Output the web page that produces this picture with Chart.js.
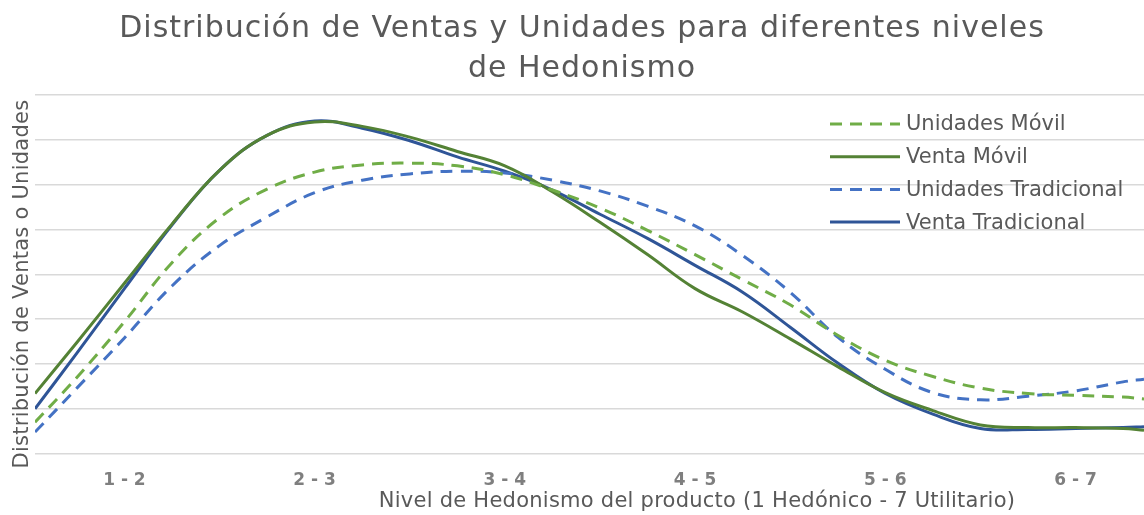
<!DOCTYPE html>
<html>
<head>
<meta charset="utf-8">
<title>Distribución de Ventas y Unidades</title>
<script src="https://cdn.jsdelivr.net/npm/chart.js@4.4.1/dist/chart.umd.min.js"></script>
<style>
  html, body { margin: 0; padding: 0; background: #fff; overflow: hidden; }
  canvas { display: block; }
</style>
</head>
<body>
<canvas id="grafico" width="1144" height="515"></canvas>
<script>
// categorias del eje x (nivel de hedonismo)
const categorias = ['1 - 2', '2 - 3', '3 - 4', '4 - 5', '5 - 6', '6 - 7'];

// posiciones de muestreo sobre el eje (0 = "1 - 2", 5 = "6 - 7")
const posiciones = [-0.47, -0.25, 0, 0.25, 0.5, 0.75, 1, 1.25, 1.5, 1.75, 2, 2.25, 2.5,
  2.75, 3, 3.25, 3.5, 3.75, 4, 4.25, 4.5, 4.75, 5, 5.25, 5.36];

// valores (% de distribucion)
const unidadesMovil = [3.5, 8.5, 14.7, 21.3, 26.3, 29.5, 31.4, 32.2, 32.4, 32.1, 31.1, 29.4, 27.4,
  24.9, 22.2, 19.4, 16.6, 13.2, 10.4, 8.6, 7.3, 6.7, 6.5, 6.3, 6.1];
const ventaMovil = [6.7, 12.4, 19.0, 25.6, 31.6, 35.5, 37.0, 36.5, 35.3, 33.7, 32.1, 29.2, 25.8,
  22.2, 18.4, 15.8, 12.8, 9.7, 6.8, 4.8, 3.2, 2.9, 2.9, 2.8, 2.6];
const unidadesTradicional = [2.4, 7.3, 12.9, 18.7, 23.2, 26.4, 29.1, 30.5, 31.2, 31.5, 31.3, 30.5, 29.3,
  27.6, 25.4, 22.1, 18.0, 13.0, 9.4, 6.8, 6.0, 6.4, 7.0, 8.0, 8.3];
const ventaTradicional = [5.0, 11.2, 18.4, 25.5, 31.6, 35.5, 37.1, 36.3, 34.9, 33.1, 31.5, 29.4, 26.7,
  24.0, 21.0, 18.0, 14.1, 10.1, 6.7, 4.4, 2.8, 2.7, 2.8, 2.9, 3.0];

const titulo = ['Distribución de Ventas y Unidades para diferentes niveles', 'de Hedonismo'];
const tituloX = 'Nivel de Hedonismo del producto (1 Hedónico - 7 Utilitario)';
const tituloY = 'Distribución de Ventas o Unidades';

const fuente = '"DejaVu Sans", Verdana, sans-serif';
const grisTexto = '#595959';

const puntos = (valores) => valores.map((v, i) => ({ x: posiciones[i], y: v }));

// titulos, leyenda y titulos de ejes dibujados sobre el lienzo
const textos = {
  id: 'textos',
  afterDraw(chart) {
    const ctx = chart.ctx;
    ctx.save();
    ctx.fillStyle = grisTexto;
    ctx.textAlign = 'center';
    ctx.textBaseline = 'alphabetic';
    ctx.font = '30px ' + fuente;
    ctx.letterSpacing = '1px';
    ctx.fillText(titulo[0], 582, 37);
    ctx.fillText(titulo[1], 582, 77);

    ctx.font = '21px ' + fuente;
    ctx.letterSpacing = '0.25px';
    ctx.fillText(tituloX, 697, 507);

    ctx.save();
    ctx.translate(28, 284);
    ctx.rotate(-Math.PI / 2);
    ctx.fillText(tituloY, 0, 0);
    ctx.restore();

    // leyenda
    ctx.letterSpacing = '0px';
    ctx.textAlign = 'left';
    ctx.textBaseline = 'middle';
    chart.data.datasets.forEach((ds, i) => {
      const y = 124 + i * 32.7;
      ctx.beginPath();
      ctx.strokeStyle = ds.borderColor;
      ctx.lineWidth = 3;
      ctx.setLineDash(ds.borderDash || []);
      ctx.moveTo(830, y);
      ctx.lineTo(900, y);
      ctx.stroke();
      ctx.setLineDash([]);
      ctx.fillStyle = grisTexto;
      ctx.fillText(ds.label, 906, y + 1);
    });
    ctx.restore();
  }
};

new Chart(document.getElementById('grafico'), {
  type: 'line',
  data: {
    datasets: [
      { label: 'Unidades Móvil', data: puntos(unidadesMovil), borderColor: '#70ad47', borderDash: [12, 8] },
      { label: 'Venta Móvil', data: puntos(ventaMovil), borderColor: '#548235' },
      { label: 'Unidades Tradicional', data: puntos(unidadesTradicional), borderColor: '#4472c4', borderDash: [12, 8] },
      { label: 'Venta Tradicional', data: puntos(ventaTradicional), borderColor: '#2f5597' }
    ]
  },
  options: {
    responsive: false,
    animation: false,
    layout: { padding: { left: 35, right: 0, top: 95, bottom: 15 } },
    elements: {
      line: { borderWidth: 3, tension: 0.4, fill: false },
      point: { radius: 0 }
    },
    plugins: {
      legend: { display: false },
      title: { display: false },
      tooltip: { enabled: false }
    },
    scales: {
      x: {
        type: 'linear',
        min: -0.47,
        max: 5.36,
        afterBuildTicks: (eje) => { eje.ticks = categorias.map((c, i) => ({ value: i })); },
        ticks: {
          callback: (v) => categorias[v],
          padding: 9,
          maxRotation: 0,
          autoSkip: false,
          color: '#7f7f7f',
          font: { family: fuente, size: 17, weight: 'bold' }
        },
        grid: { display: false },
        border: { display: false }
      },
      y: {
        min: 0,
        max: 40,
        ticks: { display: false, stepSize: 5 },
        grid: { color: '#d9d9d9', lineWidth: 1.5, drawTicks: false },
        border: { display: false }
      }
    }
  },
  plugins: [textos]
});
</script>
</body>
</html>
